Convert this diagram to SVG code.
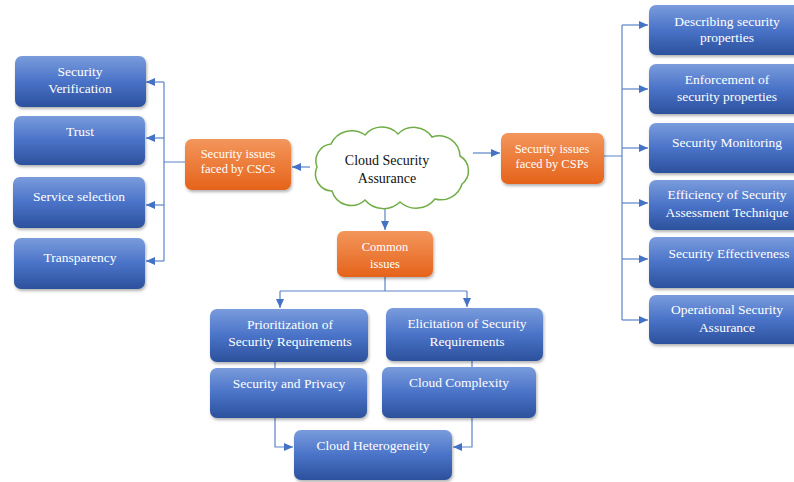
<svg xmlns="http://www.w3.org/2000/svg" width="794" height="482" viewBox="0 0 794 482">
<defs>
<linearGradient id="gb" x1="0" y1="0" x2="0" y2="1">
<stop offset="0" stop-color="#7a9cdc"/>
<stop offset="0.5" stop-color="#4a73c8"/>
<stop offset="1" stop-color="#2c519c"/>
</linearGradient>
<linearGradient id="go" x1="0" y1="0" x2="0" y2="1">
<stop offset="0" stop-color="#f3965c"/>
<stop offset="1" stop-color="#e5631a"/>
</linearGradient>
<filter id="sh" x="-10%" y="-10%" width="125%" height="130%">
<feDropShadow dx="1" dy="2" stdDeviation="1.5" flood-color="#000" flood-opacity="0.3"/>
</filter>
<marker id="ar" markerUnits="userSpaceOnUse" markerWidth="10" markerHeight="10" refX="9" refY="5" orient="auto">
<path d="M0,1 L9,5 L0,9 Z" fill="#4472c4"/>
</marker>
</defs>
<style>
.bb{fill:url(#gb);filter:url(#sh)}
.ob{fill:url(#go);filter:url(#sh)}
.t{font-family:"Liberation Serif","Times New Roman",serif;font-size:13.5px;fill:#fff;text-anchor:middle}
.to{font-family:"Liberation Serif","Times New Roman",serif;font-size:12.5px;fill:#fff;text-anchor:middle}
.tc{font-family:"Liberation Serif","Times New Roman",serif;font-size:14px;fill:#111;text-anchor:middle}
.c{fill:none;stroke:#5b84c8;stroke-width:1.2}
.ca{fill:none;stroke:#5b84c8;stroke-width:1.2;marker-end:url(#ar)}
</style>
<rect width="794" height="482" fill="#fff"/>
<g id="connectors">
<path class="c" d="M185,162 H164 M164,82 V261"/>
<path class="ca" d="M164,82 H146"/>
<path class="ca" d="M164,138 H146"/>
<path class="ca" d="M164,205 H146"/>
<path class="ca" d="M164,261 H146"/>
<path class="ca" d="M310,167 H292"/>
<path class="ca" d="M473,153 H500"/>
<path class="c" d="M604,156 H622 M622,25 V320"/>
<path class="ca" d="M622,25 H648"/>
<path class="ca" d="M622,89 H648"/>
<path class="ca" d="M622,148 H648"/>
<path class="ca" d="M622,203 H648"/>
<path class="ca" d="M622,259 H648"/>
<path class="ca" d="M622,320 H648"/>
<path class="ca" d="M385,208 V230"/>
<path class="c" d="M385,277 V291 M280,291 H467"/>
<path class="ca" d="M280,291 V308"/>
<path class="ca" d="M467,291 V307"/>
<path class="ca" d="M275,362 V447 H293"/>
<path class="ca" d="M472,361 V447 H453"/>
</g>
<g id="cloud">
<path d="M317,167 A17 17 0 0 1 331,144 A23 23 0 0 1 365,135 A22 22 0 0 1 398,134 A22 22 0 0 1 432,137 A21 21 0 0 1 460,156 A17 17 0 0 1 462,184 A22 22 0 0 1 435,199 A24 24 0 0 1 400,202 A24 24 0 0 1 365,200 A20 20 0 0 1 332,191 A17 17 0 0 1 317,167 Z" fill="#fff" stroke="#70ad47" stroke-width="1.5"/>
<text class="tc" x="387" y="165">Cloud Security</text>
<text class="tc" x="387" y="183">Assurance</text>
</g>
<g id="csc">
<rect class="ob" x="185" y="139" width="106" height="51" rx="7"/>
<text class="to" x="238" y="158">Security issues</text>
<text class="to" x="238" y="173">faced by CSCs</text>
</g>
<g id="csp">
<rect class="ob" x="501" y="133" width="103" height="51" rx="7"/>
<text class="to" x="552" y="153">Security issues</text>
<text class="to" x="552" y="168">faced by CSPs</text>
</g>
<g id="common">
<rect class="ob" x="337" y="231" width="96" height="46" rx="7"/>
<text class="to" x="385" y="251">Common</text>
<text class="to" x="385" y="268">issues</text>
</g>
<g id="sec-verification">
<rect class="bb" x="15" y="56" width="131" height="51" rx="7"/>
<text class="t" x="80" y="76">Security</text>
<text class="t" x="80" y="93">Verification</text>
</g>
<g id="trust">
<rect class="bb" x="14" y="116" width="131" height="49" rx="7"/>
<text class="t" x="80" y="136">Trust</text>
</g>
<g id="service-selection">
<rect class="bb" x="13" y="177" width="132" height="51" rx="7"/>
<text class="t" x="79" y="201">Service selection</text>
</g>
<g id="transparency">
<rect class="bb" x="14" y="238" width="131" height="51" rx="7"/>
<text class="t" x="80" y="262">Transparency</text>
</g>
<g id="describing">
<rect class="bb" x="649" y="5" width="156" height="50" rx="7"/>
<text class="t" x="727" y="26">Describing security</text>
<text class="t" x="727" y="42">properties</text>
</g>
<g id="enforcement">
<rect class="bb" x="649" y="64" width="156" height="50" rx="7"/>
<text class="t" x="727" y="84">Enforcement of</text>
<text class="t" x="727" y="101">security properties</text>
</g>
<g id="monitoring">
<rect class="bb" x="649" y="123" width="156" height="50" rx="7"/>
<text class="t" x="727" y="147">Security Monitoring</text>
</g>
<g id="efficiency">
<rect class="bb" x="649" y="180" width="156" height="50" rx="7"/>
<text class="t" x="727" y="199">Efficiency of Security</text>
<text class="t" x="727" y="217">Assessment Technique</text>
</g>
<g id="effectiveness">
<rect class="bb" x="649" y="237" width="156" height="51" rx="7"/>
<text class="t" x="729" y="258">Security Effectiveness</text>
</g>
<g id="operational">
<rect class="bb" x="649" y="295" width="156" height="49" rx="7"/>
<text class="t" x="727" y="314">Operational Security</text>
<text class="t" x="727" y="332">Assurance</text>
</g>
<g id="prioritization">
<rect class="bb" x="210" y="309" width="158" height="53" rx="7"/>
<text class="t" x="290" y="329">Prioritization of</text>
<text class="t" x="290" y="346">Security Requirements</text>
</g>
<g id="elicitation">
<rect class="bb" x="386" y="308" width="157" height="53" rx="7"/>
<text class="t" x="467" y="328">Elicitation of Security</text>
<text class="t" x="467" y="346">Requirements</text>
</g>
<g id="security-privacy">
<rect class="bb" x="210" y="368" width="157" height="50" rx="7"/>
<text class="t" x="289" y="388">Security and Privacy</text>
</g>
<g id="cloud-complexity">
<rect class="bb" x="382" y="367" width="154" height="51" rx="7"/>
<text class="t" x="459" y="387">Cloud Complexity</text>
</g>
<g id="cloud-heterogeneity">
<rect class="bb" x="294" y="430" width="158" height="50" rx="7"/>
<text class="t" x="373" y="450">Cloud Heterogeneity</text>
</g>
</svg>
